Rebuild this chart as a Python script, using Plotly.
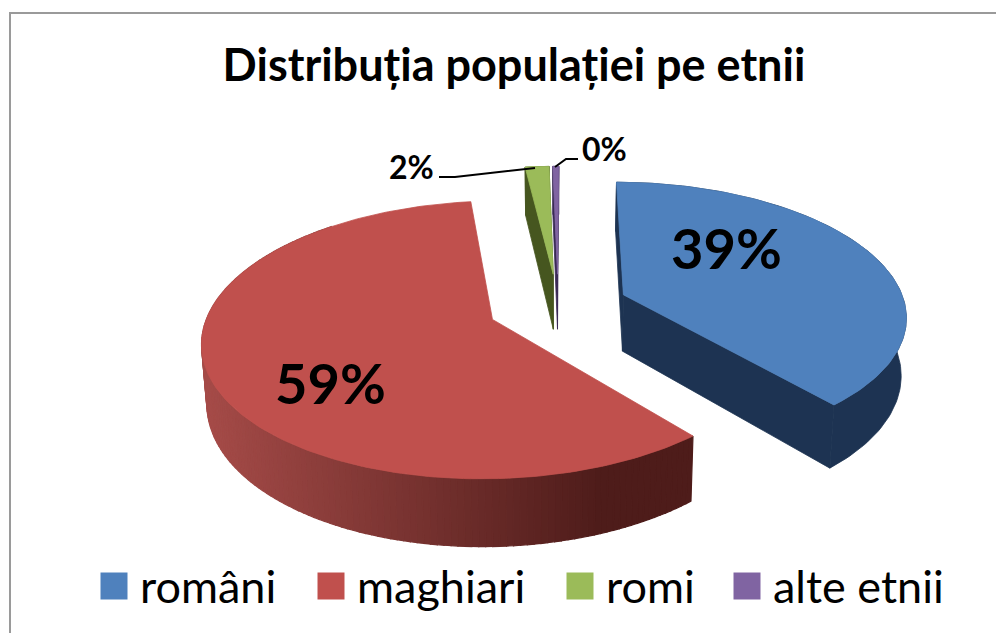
import math
import plotly.graph_objects as go

title = "Distribuția populației pe etnii"
categories = ["români", "maghiari", "romi", "alte etnii"]
values = [38.7, 59.3, 1.6, 0.4]
percent_labels = ["39%", "59%", "2%", "0%"]

top_colors = ["#4F81BD", "#C0504D", "#9BBB59", "#8064A2"]
wall_colors = ["#1D3352", None, "#46561F", "#3A2A55"]

# Projection of the exploded pie
CX, CY = 558, 306
A, B, P = 282, 132, 0.145
DEPTH, SHRINK = 57, 0.985
EXPLODE = 0.25
START = 0.3
FONT = "Lato"


def project(X, Y, bottom=False):
    w = 1 + P * Y
    x = A * X / w
    y = CY - B * Y / w
    if bottom:
        return CX + x * SHRINK, y + DEPTH / w
    return CX + x, y


def lerp_color(c0, c1, t):
    t = max(0.0, min(1.0, t))
    return "rgb(%d,%d,%d)" % tuple(round(a + (b - a) * t) for a, b in zip(c0, c1))


def poly(fig, pts, color, lw=0.8):
    xs = [p[0] for p in pts] + [pts[0][0]]
    ys = [p[1] for p in pts] + [pts[0][1]]
    fig.add_trace(go.Scatter(x=xs, y=ys, mode="lines", fill="toself", fillcolor=color,
                             line=dict(color=color, width=lw), hoverinfo="skip", showlegend=False))


fig = go.Figure()
total = sum(values)
angle = START
spans = []
for v in values:
    span = v / total * 360
    spans.append((angle, angle + span))
    angle += span

for i in [3, 2, 0, 1]:
    t0, t1 = spans[i]
    mid = math.radians((t0 + t1) / 2)
    X0, Y0 = EXPLODE * math.sin(mid), EXPLODE * math.cos(mid)
    n = max(4, int((t1 - t0) / 1.2))
    rim = []
    for k in range(n + 1):
        th = math.radians(t0 + (t1 - t0) * k / n)
        rim.append((X0 + math.sin(th), Y0 + math.cos(th)))
    top_rim = [project(*r) for r in rim]
    bot_rim = [project(*r, bottom=True) for r in rim]
    apex_t = project(X0, Y0)
    apex_b = project(X0, Y0, bottom=True)
    if wall_colors[i] is None:
        for k in range(n):
            if top_rim[k][0] > 330 and top_rim[k][1] < apex_t[1]:
                continue
            xm = (top_rim[k][0] + top_rim[k + 1][0]) / 2
            col = lerp_color((165, 75, 72), (78, 28, 26), (xm - 205) / 395)
            poly(fig, [top_rim[k], top_rim[k + 1], bot_rim[k + 1], bot_rim[k]], col, lw=1.2)
    else:
        poly(fig, [apex_t, top_rim[0], bot_rim[0], apex_b], wall_colors[i])
        poly(fig, [apex_t, top_rim[-1], bot_rim[-1], apex_b], wall_colors[i])
        poly(fig, top_rim + bot_rim[::-1], wall_colors[i])
    poly(fig, [apex_t] + top_rim, top_colors[i])

# Legend
legend_marker_x = [114, 331, 580, 747]
legend_y = 586
for name, color, mx in zip(categories, top_colors, legend_marker_x):
    fig.add_trace(go.Scatter(x=[mx], y=[legend_y], mode="markers", showlegend=False, hoverinfo="skip",
                             marker=dict(symbol="square", size=27, color=color, line=dict(width=0))))
    fig.add_annotation(x=mx + 24, y=legend_y, text=name, showarrow=False, xanchor="left", yanchor="middle",
                       font=dict(family=FONT, size=45, color="black"))

# Percentage labels
label_pos = [(726, 247, 56), (330, 382, 56), (411, 166, 32), (604, 148, 32)]
for txt, (lx, ly, sz) in zip(percent_labels, label_pos):
    fig.add_annotation(x=lx, y=ly, text="<b>%s</b>" % txt, showarrow=False,
                       font=dict(family=FONT, size=sz, color="black"))

# The browser page puts the figure 8 px in from the corner, so the axes start at 8.
fig.update_layout(
    width=996, height=625, margin=dict(l=0, r=0, t=0, b=0),
    paper_bgcolor="white", plot_bgcolor="white", showlegend=False,
    title=dict(text="<b>%s</b>" % title, x=(514 - 8) / 996, xanchor="center", xref="paper",
               y=1 - (65 - 8) / 625, yanchor="middle", yref="paper",
               font=dict(family=FONT, size=45, color="black")),
    xaxis=dict(range=[8, 1004], visible=False, fixedrange=True),
    yaxis=dict(range=[633, 8], visible=False, fixedrange=True),
    shapes=[
        dict(type="rect", xref="x", yref="y", x0=10, y0=13, x1=1003, y1=660,
             line=dict(color="#9A9A9A", width=2), layer="below"),
        dict(type="path", xref="x", yref="y", path="M439,177 L455,177 L535,168",
             line=dict(color="black", width=2)),
        dict(type="path", xref="x", yref="y", path="M555,167 L566,159 L578,159",
             line=dict(color="black", width=2)),
    ],
)

fig.write_html("out.html")
